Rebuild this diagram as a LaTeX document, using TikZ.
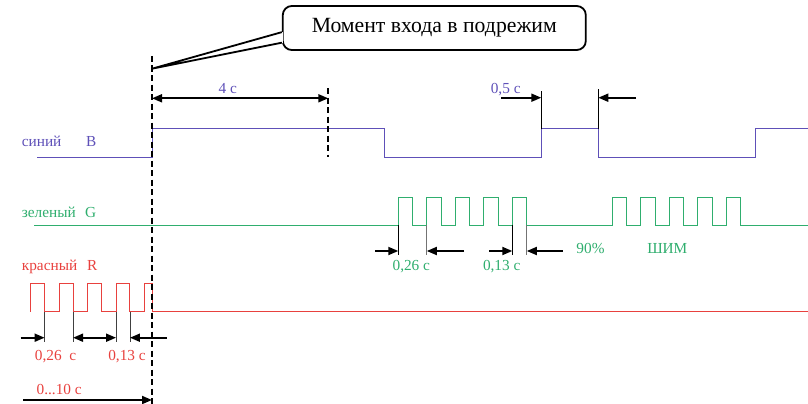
\documentclass[tikz,border=0pt]{standalone}
\usepackage{fontspec}
\setmainfont{Liberation Serif}
\usepackage{tikz}
\usetikzlibrary{calc,arrows.meta}
\definecolor{sigblue}{HTML}{5E50B8}
\definecolor{siggreen}{HTML}{2FAE6E}
\definecolor{sigred}{HTML}{E8413E}
\tikzset{
   signal/.style={line width=1pt},
   sig label/.style={inner sep=0pt,anchor=base west,font=\fontsize{15.3}{15}\selectfont},
   dim label/.style={inner sep=0pt,anchor=base,font=\fontsize{15.3}{15}\selectfont},
   dim arrow/.style={line width=1.8pt,-{Triangle[length=10pt,width=8pt]}},
   dim both/.style={line width=1.8pt,{Triangle[length=10pt,width=8pt]}-{Triangle[length=10pt,width=8pt]}},
   ext line/.style={line width=0.8pt,black!75},
   mode line/.style={line width=2pt,dash pattern=on 6pt off 3.5pt},
   callout box/.style={draw,fill=white,line width=1.8pt,rounded corners=9pt,minimum width=303pt,
                       minimum height=44pt,font=\fontsize{21.7}{21}\selectfont}
}

\begin{document}
\begin{tikzpicture}[x=1pt,y=-1pt]
\useasboundingbox (0,0) rectangle (808,404);
%
\draw[signal,sigblue] (37.3,157.3) -- (152,157.3) -- (152,128.7) -- (384.5,128.7) -- (384.5,157.3)
   -- (541.3,157.3) -- (541.3,128.7) -- (598.3,128.7) -- (598.3,157.3) -- (755,157.3) -- (755,128.7) -- (808,128.7);
\draw[signal,siggreen] (34,225) \foreach \s in {398.3,612.3}{\foreach \i in {0,...,4}{
   -- (\s+28.5*\i,225) -- (\s+28.5*\i,197) -- (\s+28.5*\i+14.5,197) -- (\s+28.5*\i+14.5,225)}} -- (808,225);
\draw[signal,sigred] (30.7,311.7) \foreach \i in {0,...,3}{
   -- (30.7+28.45*\i,311.7) -- (30.7+28.45*\i,283.3) -- (44.6+28.45*\i,283.3) -- (44.6+28.45*\i,311.7)}
   -- (144.3,311.7) -- (144.3,283.3) -- (152,283.3) -- (152,311.7) -- (808,311.7);
%
\node[sig label,sigblue]  (blue)    at (21.7,146.7) {синий};
\node[sig label,sigblue]  (blue b)  at (86,146.7)   {B};
\node[sig label,siggreen] (green)   at (21.7,217.7) {зеленый};
\node[sig label,siggreen] (green g) at (85,217.7)   {G};
\node[sig label,sigred]   (red)     at (21.7,270.7) {красный};
\node[sig label,sigred]   (red r)   at (87,270.7)   {R};
%
\coordinate (mode top) at (152,56);
\coordinate (mode bot) at (152,404);
\coordinate (blue4 top) at (328.3,88);
\coordinate (blue4 bot) at (328.3,157.3);
\draw[mode line] (mode top) -- (mode bot);
\draw[mode line] (blue4 top) -- (blue4 bot);
%
\coordinate (d4 a) at (152,98.3);
\coordinate (d4 b) at (328.3,98.3);
\draw[dim both] (d4 a) -- (d4 b);
\node[dim label,sigblue] (t4) at (227.7,93.3) {4 с};
%
\coordinate (b on) at (541.3,97.7);
\coordinate (b off) at (598.3,97.7);
\coordinate (b on free) at (501,97.7);
\coordinate (b off free) at (636,97.7);
\draw[ext line,black] (541.3,91) -- (541.3,128.7);
\draw[ext line,black] (598.3,89.3) -- (598.3,128.7);
\draw[dim arrow] (b on free) -- (b on);
\draw[dim arrow] (b off free) -- (b off);
\node[dim label,sigblue] (t05) at (505.7,93.3) {0,5 с};
%
\foreach \x/\c in {398.3/black,426.8/black!55,512.3/black,526.8/black!55}
   \draw[ext line,\c] (\x,225) -- (\x,255);
\coordinate (g1) at (398.3,251);  \coordinate (g1 free) at (375,251);
\coordinate (g2) at (426.8,251);  \coordinate (g2 free) at (464,251);
\coordinate (g3) at (512.3,251);  \coordinate (g3 free) at (489,251);
\coordinate (g4) at (526.8,251);  \coordinate (g4 free) at (562.7,251);
\foreach \n in {g1,g2,g3,g4}
   \draw[dim arrow] (\n\space free) -- (\n);
\node[dim label,siggreen] (g026) at (411.3,270.7) {0,26 с};
\node[dim label,siggreen] (g013) at (501.7,270.7) {0,13 с};
\node[dim label,siggreen] (pwm90) at (590.5,253.3) {90\%};
\node[dim label,siggreen] (pwm) at (667.3,253.3) {ШИМ};
%
\foreach \x in {44.6,73.05,116.05,129.95}
   \draw[ext line] (\x,311.7) -- (\x,341.7);
\coordinate (r1) at (44.6,337.7);   \coordinate (r1 free) at (20.7,337.7);
\coordinate (r2) at (73.05,337.7);  \coordinate (r3) at (116.05,337.7);
\coordinate (r4) at (129.95,337.7); \coordinate (r4 free) at (166.7,337.7);
\draw[dim arrow] (r1 free) -- (r1);
\draw[dim both] (r2) -- (r3);
\draw[dim arrow] (r4 free) -- (r4);
\node[dim label,sigred] (r026) at (55.5,360) {0,26~~с};
\node[dim label,sigred] (r013) at (127,360) {0,13 с};
\coordinate (r end) at (152,400);
\coordinate (r start) at (23.3,400);
\draw[dim arrow] (r start) -- (r end);
\node[dim label,sigred] (r010) at (59.2,394) {0...10 с};
%
\node[callout box] (callout) at (434.3,28) {Момент входа в подрежим};
\coordinate (tip) at (152,68.7);
\coordinate (pa) at ($(callout.north west)!0.59!(callout.south west)$);
\coordinate (pb) at ($(callout.north west)!0.82!(callout.south west)$);
\fill[white] (pa) -- (tip) -- (pb) -- cycle;
\draw[white,line width=3pt] (pa) -- (pb);
\draw[line width=1.8pt,line join=round] (pa) -- (tip) -- (pb);
\end{tikzpicture}
\end{document}
